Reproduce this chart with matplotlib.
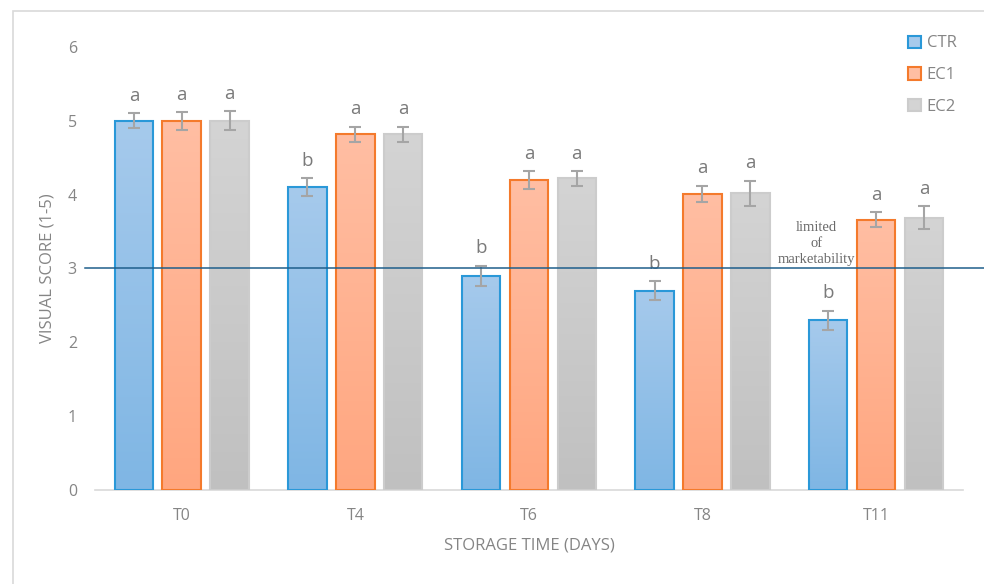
import numpy as np
import matplotlib
matplotlib.use("Agg")
import matplotlib.pyplot as plt
from matplotlib.colors import LinearSegmentedColormap
from matplotlib.patches import Rectangle

plt.rcParams['font.family'] = ['Open Sans', 'DejaVu Sans']

# storage times and treatment series
times = ['T0', 'T4', 'T6', 'T8', 'T11']
series = ['CTR', 'EC1', 'EC2']
ctr = [5.0, 4.1, 2.9, 2.7, 2.3]
ec1 = [5.0, 4.82, 4.2, 4.01, 3.66]
ec2 = [5.0, 4.82, 4.22, 4.02, 3.69]
ctr_err = [0.1, 0.12, 0.14, 0.13, 0.13]
ec1_err = [0.12, 0.1, 0.12, 0.11, 0.1]
ec2_err = [0.13, 0.1, 0.1, 0.17, 0.15]
ctr_letters = ['a', 'b', 'b', 'b', 'b']
ec1_letters = ['a', 'a', 'a', 'a', 'a']
ec2_letters = ['a', 'a', 'a', 'a', 'a']
limit = 3.0

values = [ctr, ec1, ec2]
errors = [ctr_err, ec1_err, ec2_err]
letters = [ctr_letters, ec1_letters, ec2_letters]

# (edge, top of gradient, bottom of gradient)
styles = [('#2A98D8', '#A6CAEC', '#7FB6E4'),
          ('#F47A2C', '#FFBEA3', '#FFA67F'),
          ('#CCCCCC', '#D4D4D4', '#C0C0C0')]

fig = plt.figure(figsize=(9.84, 5.84), dpi=100)
ax = fig.add_axes([0.0965, 0.161, 0.882, 0.7585])

# outer chart frame
fig.patches.append(Rectangle((13 / 984, -0.05), 1.0, 1 - 11 / 584 + 0.05,
                             transform=fig.transFigure, fill=False,
                             edgecolor='#D9D9D9', lw=1.2))

x = np.arange(len(times))
width = 0.222
step = 0.276
grey = '#858585'

for i, name in enumerate(series):
    edge, top, bottom = styles[i]
    cmap = LinearSegmentedColormap.from_list(name, [bottom, top])
    grad = np.linspace(1, 0, 256).reshape(-1, 1)
    pos = x + (i - 1) * step
    bars = ax.bar(pos, values[i], width, facecolor='none', edgecolor=edge,
                  linewidth=1.5, label=name, zorder=3)
    for b, v in zip(bars, values[i]):
        im = ax.imshow(grad, cmap=cmap, aspect='auto', zorder=2,
                       extent=[b.get_x(), b.get_x() + b.get_width(), 0, v],
                       vmin=0, vmax=1)
        im.set_clip_path(b)
    ax.errorbar(pos, values[i], yerr=errors[i], fmt='none', ecolor='#A5A5A5',
                elinewidth=1.5, capsize=4.5, capthick=1.5, zorder=4)
    for p, v, e, t in zip(pos, values[i], errors[i], letters[i]):
        ax.annotate(t, (p, v + e), xytext=(0, 6), textcoords='offset points',
                    ha='center', va='bottom', fontsize=13.5, color='#7A7A7A')

# marketability limit
ax.plot([-0.56, 5.0], [limit, limit], color='#1F5F8C', lw=1.1,
        clip_on=False, zorder=5)
ax.text(3.655, limit + 0.04, 'limited\nof\nmarketability', ha='center',
        va='bottom', fontsize=10.5, color='#6A6A6A', family='Liberation Serif',
        linespacing=1.3, zorder=6)

ax.set_xlim(-0.5, 4.5)
ax.set_ylim(0, 6)
ax.set_xticks(x)
ax.set_xticklabels(times)
ax.set_yticks(range(7))
ax.tick_params(length=0, labelsize=11.5, labelcolor=grey, pad=13)
ax.tick_params(axis='y', pad=13)
for s in ['top', 'right', 'left']:
    ax.spines[s].set_visible(False)
ax.spines['bottom'].set_color('#D9D9D9')
ax.spines['bottom'].set_linewidth(1.2)

ax.set_xlabel('STORAGE TIME (DAYS)', fontsize=12, color=grey, labelpad=10)
ax.set_ylabel('VISUAL SCORE (1-5)', fontsize=12, color=grey, labelpad=9)

ax.legend(loc='upper right', bbox_to_anchor=(1.01, 1.06), frameon=False,
          fontsize=12, labelcolor=grey, handlelength=0.75, handleheight=0.75,
          handletextpad=0.35, labelspacing=0.95)
leg = ax.get_legend()
for h, (edge, top, bottom) in zip(leg.legend_handles, styles):
    h.set_facecolor(top)
    h.set_edgecolor(edge)

fig.savefig('out.png', dpi=100)
